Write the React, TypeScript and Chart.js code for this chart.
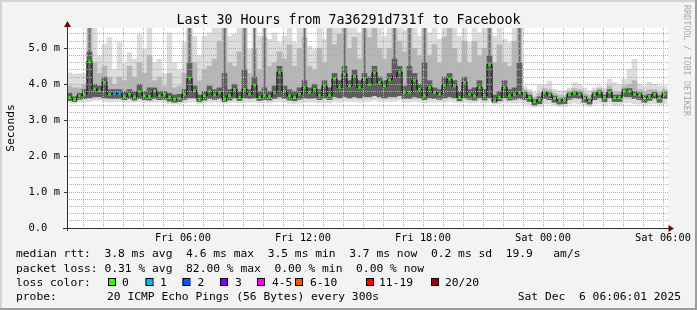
import { useEffect, useRef } from 'react';
import { Chart, registerables } from 'chart.js';

Chart.register(...registerables);

const TITLE = 'Last 30 Hours from 7a36291d731f to Facebook';
const Y_LABEL = 'Seconds';
const WATERMARK = 'RRDTOOL / TOBI OETIKER';

// time axis: hours after Fri 00:00
const X_MIN_HOUR = 0.2;
const X_MAX_HOUR = 30.25;
const SAMPLE_START_HOUR = 0.2;
const SAMPLE_STEP_HOURS = 0.25;
const Y_MAX_MS = 5.565;
const Y_MINOR_STEP = 0.2;

const xTickHours = [6, 12, 18, 24, 30];
const xTickLabels = ['Fri 06:00', 'Fri 12:00', 'Fri 18:00', 'Sat 00:00', 'Sat 06:00'];
const yTickValues = [0, 1, 2, 3, 4, 5];
const yTickLabels = ['0.0  ', '1.0 m', '2.0 m', '3.0 m', '4.0 m', '5.0 m'];

// median round trip time (ms), one value per 15 minutes
const medianMs = [
  3.63, 3.57, 3.68, 3.72, 4.63, 3.87, 3.82, 4.05, 3.72, 3.74,
  3.74, 3.66, 3.72, 3.65, 3.8, 3.68, 3.66, 3.81, 3.68, 3.72,
  3.63, 3.58, 3.6, 3.72, 4.17, 3.82, 3.57, 3.68, 3.81, 3.7,
  3.77, 3.58, 3.68, 3.86, 3.63, 3.86, 3.72, 3.97, 3.63, 3.69,
  3.66, 3.77, 4.33, 3.81, 3.68, 3.63, 3.72, 3.91, 3.77, 3.86,
  3.69, 3.95, 3.69, 4.14, 3.91, 4.28, 3.95, 4.23, 3.91, 4.14,
  3.99, 4.32, 4.05, 3.95, 4.12, 4.21, 4.34, 3.78, 3.78, 4.11,
  3.86, 3.68, 3.91, 3.77, 3.72, 3.97, 4.14, 3.95, 3.63, 4.05,
  3.72, 3.68, 3.91, 3.68, 4.55, 3.54, 3.63, 3.91, 3.68, 3.72,
  3.77, 3.72, 3.63, 3.51, 3.57, 3.77, 3.7, 3.61, 3.54, 3.56,
  3.71, 3.74, 3.72, 3.61, 3.54, 3.7, 3.77, 3.63, 3.78, 3.63,
  3.63, 3.81, 3.81, 3.72, 3.7, 3.61, 3.66, 3.72, 3.61, 3.72,
];

// lost pings (of 20) per sample
const lossCount = [
  0, 0, 0, 0, 0, 0, 0, 0, 0, 1,
  1, 0, 0, 0, 0, 0, 0, 0, 0, 0,
  0, 0, 0, 0, 0, 0, 0, 0, 0, 0,
  0, 0, 0, 0, 0, 0, 0, 0, 0, 0,
  0, 0, 0, 0, 0, 0, 0, 0, 0, 0,
  0, 0, 0, 0, 0, 0, 0, 0, 0, 0,
  0, 0, 0, 0, 0, 4, 0, 0, 0, 0,
  0, 0, 0, 0, 0, 0, 0, 0, 0, 0,
  0, 0, 0, 0, 0, 0, 0, 0, 0, 0,
  0, 0, 0, 0, 0, 0, 0, 0, 0, 0,
  0, 0, 0, 0, 0, 0, 0, 0, 0, 0,
  0, 0, 0, 0, 0, 0, 0, 0, 0, 0,
];

// smoke: fastest ping
const pingMinMs = [
  3.48, 3.47, 3.5, 3.52, 3.52, 3.55, 3.55, 3.52, 3.5, 3.52,
  3.52, 3.5, 3.5, 3.5, 3.52, 3.5, 3.5, 3.5, 3.5, 3.48,
  3.46, 3.45, 3.45, 3.48, 3.5, 3.5, 3.46, 3.48, 3.5, 3.5,
  3.5, 3.47, 3.48, 3.5, 3.48, 3.5, 3.5, 3.5, 3.48, 3.48,
  3.48, 3.5, 3.52, 3.5, 3.47, 3.46, 3.48, 3.5, 3.5, 3.5,
  3.48, 3.5, 3.48, 3.52, 3.5, 3.52, 3.52, 3.52, 3.5, 3.52,
  3.52, 3.55, 3.52, 3.52, 3.52, 3.52, 3.55, 3.5, 3.5, 3.52,
  3.5, 3.48, 3.5, 3.5, 3.5, 3.5, 3.52, 3.5, 3.48, 3.5,
  3.48, 3.48, 3.5, 3.48, 3.5, 3.45, 3.46, 3.5, 3.48, 3.48,
  3.48, 3.45, 3.42, 3.36, 3.38, 3.45, 3.45, 3.42, 3.38, 3.38,
  3.45, 3.48, 3.46, 3.42, 3.38, 3.45, 3.47, 3.42, 3.47, 3.42,
  3.42, 3.48, 3.48, 3.46, 3.45, 3.42, 3.45, 3.46, 3.42, 3.46,
];

// smoke: slowest ping
const pingMaxMs = [
  4.32, 4.28, 4.3, 4.3, 5.6, 5.6, 4.8, 5.1, 5.3, 4.4,
  5.16, 4.6, 4.88, 4.7, 5.39, 4.97, 5.6, 4.6, 4.7, 4.3,
  5.43, 4.6, 4.4, 5.16, 5.6, 5.34, 4.8, 5.34, 5.43, 5.6,
  5.6, 5.6, 5.34, 5.39, 5.6, 5.6, 4.97, 5.6, 5.34, 5.6,
  5.25, 5.43, 5.16, 5.34, 5.6, 5.16, 5.6, 5.6, 5.06, 4.97,
  5.6, 5.25, 5.6, 5.6, 5.6, 5.6, 5.6, 5.6, 5.43, 5.6,
  5.6, 5.6, 5.6, 5.34, 5.6, 5.6, 5.6, 5.5, 5.6, 5.6,
  5.34, 5.6, 5.43, 5.6, 5.25, 5.6, 5.6, 5.6, 5.34, 5.6,
  5.16, 5.6, 5.43, 5.6, 5.6, 5.34, 5.6, 5.25, 5.16, 5.6,
  5.6, 3.95, 3.86, 3.77, 4.0, 4.0, 4.09, 3.86, 3.82, 3.82,
  3.9, 4.05, 4.0, 3.9, 3.82, 3.9, 3.95, 3.9, 4.14, 4.05,
  4.0, 4.14, 4.42, 4.69, 4.0, 3.95, 4.05, 4.0, 3.95, 3.95,
];

// smoke: lower edge of the dense part
const coreLowMs = [
  3.55, 3.52, 3.58, 3.6, 3.62, 3.65, 3.65, 3.62, 3.6, 3.6,
  3.6, 3.57, 3.6, 3.56, 3.6, 3.57, 3.56, 3.6, 3.57, 3.58,
  3.53, 3.5, 3.52, 3.58, 3.62, 3.62, 3.52, 3.56, 3.6, 3.58,
  3.6, 3.52, 3.56, 3.62, 3.55, 3.62, 3.6, 3.62, 3.55, 3.57,
  3.56, 3.6, 3.65, 3.6, 3.56, 3.54, 3.58, 3.62, 3.6, 3.62,
  3.57, 3.62, 3.57, 3.65, 3.62, 3.65, 3.62, 3.65, 3.62, 3.65,
  3.65, 3.68, 3.65, 3.62, 3.65, 3.65, 3.68, 3.6, 3.6, 3.65,
  3.62, 3.57, 3.62, 3.6, 3.58, 3.62, 3.65, 3.62, 3.54, 3.62,
  3.58, 3.56, 3.62, 3.56, 3.62, 3.5, 3.54, 3.62, 3.56, 3.58,
  3.6, 3.58, 3.52, 3.42, 3.46, 3.6, 3.57, 3.5, 3.45, 3.46,
  3.58, 3.62, 3.6, 3.5, 3.45, 3.57, 3.62, 3.52, 3.62, 3.52,
  3.52, 3.65, 3.65, 3.6, 3.57, 3.5, 3.55, 3.6, 3.5, 3.6,
];

// smoke: upper edge of the medium-grey part
const midTopMs = [
  3.95, 3.9, 3.9, 4.0, 5.6, 4.6, 4.3, 4.5, 4.2, 4.0,
  4.2, 4.1, 4.5, 4.2, 4.6, 4.3, 4.8, 4.1, 4.2, 3.95,
  4.3, 3.9, 3.95, 4.3, 5.6, 4.6, 4.1, 4.4, 4.5, 4.7,
  5.2, 5.6, 4.6, 4.5, 4.9, 5.6, 4.3, 5.0, 4.4, 5.3,
  4.5, 4.6, 4.9, 4.7, 5.1, 4.5, 5.0, 5.3, 4.5, 4.4,
  5.0, 4.6, 5.6, 5.1, 5.4, 5.6, 5.0, 5.3, 4.7, 5.6,
  5.3, 5.6, 5.0, 4.7, 5.0, 5.6, 5.2, 4.9, 5.6, 5.0,
  4.8, 5.6, 4.8, 5.1, 4.6, 5.3, 5.6, 5.0, 4.6, 5.2,
  4.6, 5.2, 4.8, 5.0, 5.6, 4.6, 5.1, 4.6, 4.5, 5.2,
  5.6, 3.85, 3.78, 3.65, 3.75, 3.88, 3.85, 3.75, 3.7, 3.7,
  3.82, 3.88, 3.85, 3.75, 3.7, 3.82, 3.88, 3.78, 3.95, 3.8,
  3.8, 3.95, 4.0, 4.1, 3.85, 3.8, 3.85, 3.85, 3.78, 3.85,
];

// smoke: upper edge of the dark part
const darkTopMs = [
  3.75, 3.65, 3.75, 3.85, 4.9, 4.0, 3.95, 4.2, 3.85, 3.85,
  3.85, 3.8, 3.85, 3.8, 4.0, 3.8, 3.9, 3.9, 3.8, 3.8,
  3.75, 3.7, 3.72, 3.85, 4.6, 3.95, 3.7, 3.8, 3.95, 3.85,
  3.9, 4.3, 3.85, 4.0, 3.8, 4.4, 3.85, 4.2, 3.8, 3.9,
  3.8, 3.95, 4.5, 3.95, 3.85, 3.8, 3.9, 4.1, 3.9, 4.0,
  3.85, 4.1, 3.9, 4.3, 4.1, 4.5, 4.1, 4.4, 4.1, 4.3,
  4.2, 4.5, 4.2, 4.1, 4.3, 4.7, 4.5, 3.95, 4.5, 4.3,
  4.0, 4.6, 4.1, 3.9, 3.85, 4.2, 4.3, 4.1, 3.8, 4.2,
  3.85, 3.9, 4.1, 3.85, 4.8, 3.7, 3.8, 4.1, 3.85, 3.9,
  4.6, 3.78, 3.7, 3.57, 3.65, 3.8, 3.76, 3.67, 3.6, 3.62,
  3.76, 3.8, 3.78, 3.67, 3.6, 3.76, 3.82, 3.7, 3.85, 3.7,
  3.7, 3.87, 3.88, 3.8, 3.76, 3.68, 3.72, 3.78, 3.68, 3.78,
];

// thin dark streaks reaching the top of the graph (null = none)
const streakTopMs = [
  null, null, null, null, 5.6, null, null, null, null, null,
  null, null, null, null, null, null, null, null, null, null,
  null, null, null, null, 5.6, null, null, null, null, null,
  null, 5.6, null, null, null, 5.6, null, 5.6, null, 5.6,
  null, null, null, null, null, null, null, 5.6, null, null,
  null, null, null, null, null, 5.6, null, null, null, 5.6,
  null, null, null, null, null, 5.6, null, null, 5.6, null,
  null, 5.6, null, null, null, null, null, null, null, null,
  null, null, null, null, 5.6, null, null, null, null, null,
  5.6, null, null, null, null, null, null, null, null, null,
  null, null, null, null, null, null, null, null, null, null,
  null, null, null, null, null, null, null, null, null, null,
];

const statsLines = [
  'median rtt:  3.8 ms avg  4.6 ms max  3.5 ms min  3.7 ms now  0.2 ms sd  19.9   am/s',
  'packet loss: 0.31 % avg  82.00 % max  0.00 % min  0.00 % now',
];
const lossLegendTitle = 'loss color:';
const lossLabels = ['0', '1', '2', '3', '4-5', '6-10', '11-19', '20/20'];
const lossColors = ['#26ff00', '#00b8ff', '#0059ff', '#7e00ff', '#ff00ff', '#ff5500', '#ff0000', '#a10000'];
const probeTitle = 'probe:';
const probeText = '20 ICMP Echo Pings (56 Bytes) every 300s';
const dateText = 'Sat Dec  6 06:06:01 2025';

const MONO = "'DejaVu Sans Mono', monospace";
const GRID_GRAY = '#b0b0b0';
const GRID_RED = '#ea9090';

function lossBucket(n: number): number {
  if (n <= 3) return n;
  if (n <= 5) return 4;
  if (n <= 10) return 5;
  if (n <= 19) return 6;
  return 7;
}

const isMajor = (v: number) => Math.abs(v - Math.round(v)) < 1e-6;

const rrdPlugin = {
  id: 'rrdDecor',
  beforeDraw(chart: any) {
    const { ctx, chartArea: a, width, height } = chart;
    ctx.save();
    ctx.fillStyle = '#f3f3f3';
    ctx.fillRect(0, 0, width, height);
    ctx.fillStyle = '#d4d4d4';
    ctx.fillRect(0, 0, width, 2);
    ctx.fillRect(0, 0, 2, height);
    ctx.fillStyle = '#9c9c9c';
    ctx.fillRect(0, height - 2, width, 2);
    ctx.fillRect(width - 2, 0, 2, height);
    ctx.fillStyle = '#ffffff';
    ctx.fillRect(a.left, a.top, a.right - a.left, a.bottom - a.top);
    ctx.restore();
  },
  afterDraw(chart: any) {
    const { ctx, chartArea: a } = chart;
    ctx.save();
    // axes
    ctx.strokeStyle = '#303030';
    ctx.lineWidth = 1;
    ctx.beginPath();
    ctx.moveTo(a.left + 0.5, a.bottom + 3);
    ctx.lineTo(a.left + 0.5, a.top - 2);
    ctx.moveTo(a.left - 4, a.bottom + 0.5);
    ctx.lineTo(a.right + 2, a.bottom + 0.5);
    ctx.stroke();
    ctx.fillStyle = '#7f0000';
    ctx.beginPath();
    ctx.moveTo(a.left + 0.5, a.top - 7);
    ctx.lineTo(a.left - 3, a.top - 1);
    ctx.lineTo(a.left + 4, a.top - 1);
    ctx.closePath();
    ctx.fill();
    ctx.beginPath();
    ctx.moveTo(a.right + 6, a.bottom + 0.5);
    ctx.lineTo(a.right + 0.5, a.bottom - 3);
    ctx.lineTo(a.right + 0.5, a.bottom + 4);
    ctx.closePath();
    ctx.fill();

    // title
    ctx.fillStyle = '#000';
    ctx.font = `13.3px ${MONO}`;
    ctx.textAlign = 'center';
    ctx.textBaseline = 'alphabetic';
    ctx.fillText(TITLE, 348.5, 23.5);

    // y label
    ctx.save();
    ctx.translate(14, (a.top + a.bottom) / 2);
    ctx.rotate(-Math.PI / 2);
    ctx.font = `11.3px ${MONO}`;
    ctx.textAlign = 'center';
    ctx.fillText(Y_LABEL, 0, 0);
    ctx.restore();

    // watermark
    ctx.save();
    ctx.translate(683.5, 5);
    ctx.rotate(Math.PI / 2);
    ctx.font = `8.4px ${MONO}`;
    ctx.fillStyle = '#a8a8a8';
    ctx.textAlign = 'left';
    ctx.fillText(WATERMARK, 0, 0);
    ctx.restore();

    // legend
    ctx.font = `11.3px ${MONO}`;
    ctx.textAlign = 'left';
    ctx.fillStyle = '#000';
    const x0 = 16;
    const baselines = [257.3, 271.6, 285.9, 300.2];
    ctx.fillText(statsLines[0], x0, baselines[0]);
    ctx.fillText(statsLines[1], x0, baselines[1]);
    ctx.fillText(lossLegendTitle, x0, baselines[2]);
    const boxX = [108, 145.5, 182.5, 220, 257, 295, 366, 431];
    const labelX = [122, 160, 197.5, 235, 272, 310, 379, 445];
    lossLabels.forEach((lab, i) => {
      ctx.fillStyle = lossColors[i];
      ctx.fillRect(boxX[i], 278, 7, 7);
      ctx.strokeStyle = '#000';
      ctx.strokeRect(boxX[i] + 0.5, 278.5, 7, 7);
      ctx.fillStyle = '#000';
      ctx.fillText(lab, labelX[i], baselines[2]);
    });
    ctx.fillText(probeTitle, x0, baselines[3]);
    ctx.fillText(probeText, 107, baselines[3]);
    ctx.textAlign = 'right';
    ctx.fillText(dateText, 681, baselines[3]);
    ctx.restore();
  },
};

export default function App() {
  const ref = useRef<HTMLCanvasElement>(null);

  useEffect(() => {
    document.body.style.margin = '0';
    const canvas = ref.current;
    if (!canvas) return;

    const times = medianMs.map((_, i) => SAMPLE_START_HOUR + SAMPLE_STEP_HOURS * (i + 0.5));
    const band = (lo: number[], hi: (number | null)[]) =>
      times.map((x, i) => ({ x, y: hi[i] == null ? null : [lo[i], hi[i]] }));
    const barCommon = {
      type: 'bar' as const,
      grouped: false,
      barPercentage: 1,
      categoryPercentage: 1,
      borderWidth: 0,
    };

    const hourTicks: number[] = [];
    for (let h = Math.ceil(X_MIN_HOUR); h <= X_MAX_HOUR; h++) hourTicks.push(h);
    const yTicks: number[] = [];
    for (let k = 0; k * Y_MINOR_STEP <= Y_MAX_MS; k++) yTicks.push(Math.round(k * Y_MINOR_STEP * 10) / 10);

    const chart = new Chart(canvas, {
      type: 'line',
      data: {
        datasets: [
          { ...barCommon, data: band(pingMinMs, pingMaxMs), backgroundColor: '#dcdcdc', order: 6 } as any,
          { ...barCommon, data: band(coreLowMs, midTopMs), backgroundColor: '#b6b6b6', order: 5 } as any,
          { ...barCommon, data: band(darkTopMs, streakTopMs), backgroundColor: '#6a6a6a', barPercentage: 0.4, order: 4 } as any,
          { ...barCommon, data: band(coreLowMs, darkTopMs), backgroundColor: '#5e5e5e', order: 3 } as any,
          {
            type: 'line',
            data: times.map((x, i) => ({ x, y: medianMs[i] })),
            borderColor: '#000',
            borderWidth: 1,
            stepped: 'middle',
            pointStyle: 'rect',
            pointRadius: 1.8,
            pointBackgroundColor: lossCount.map((n) => lossColors[lossBucket(n)]),
            pointBorderWidth: 0,
            order: 1,
          } as any,
        ],
      },
      options: {
        responsive: false,
        animation: false,
        events: [],
        layout: { padding: { left: 0, top: 28, right: 29, bottom: 0 } },
        plugins: { legend: { display: false }, tooltip: { enabled: false }, title: { display: false } },
        scales: {
          x: {
            type: 'linear',
            min: X_MIN_HOUR,
            max: X_MAX_HOUR,
            offset: false,
            afterBuildTicks: (s: any) => {
              s.ticks = hourTicks.map((v) => ({ value: v }));
            },
            afterFit: (s: any) => {
              s.height = 82;
            },
            ticks: {
              autoSkip: false,
              maxRotation: 0,
              minRotation: 0,
              padding: 4,
              color: '#000',
              font: { family: MONO, size: 10.3 },
              callback: (v: any) => {
                const k = xTickHours.indexOf(Number(v));
                return k >= 0 ? xTickLabels[k] : '';
              },
            },
            grid: {
              offset: false,
              color: (c: any) => (c.tick && c.tick.value % 3 === 0 ? GRID_RED : GRID_GRAY),
              lineWidth: 1,
              drawTicks: false,
              z: 1,
            },
            border: { display: false, dash: [1, 1] },
          },
          y: {
            type: 'linear',
            min: 0,
            max: Y_MAX_MS,
            afterBuildTicks: (s: any) => {
              s.ticks = yTicks.map((v) => ({ value: v }));
            },
            afterFit: (s: any) => {
              s.width = 67;
            },
            ticks: {
              autoSkip: false,
              padding: 4,
              color: '#000',
              font: { family: MONO, size: 10.5 },
              callback: (v: any) => {
                const k = yTickValues.findIndex((t) => Math.abs(t - Number(v)) < 1e-6);
                return k >= 0 ? yTickLabels[k] : '';
              },
            },
            grid: {
              color: (c: any) => (c.tick && isMajor(c.tick.value) ? GRID_RED : GRID_GRAY),
              lineWidth: 1,
              tickLength: 3,
              tickColor: (c: any) => (c.tick && isMajor(c.tick.value) ? '#303030' : 'rgba(0,0,0,0)'),
              z: 1,
            },
            border: { display: false, dash: [1, 1] },
          },
        },
      },
      plugins: [rrdPlugin],
    });

    return () => chart.destroy();
  }, []);

  return <canvas ref={ref} width={697} height={310} style={{ display: 'block', width: 697, height: 310 }} />;
}
